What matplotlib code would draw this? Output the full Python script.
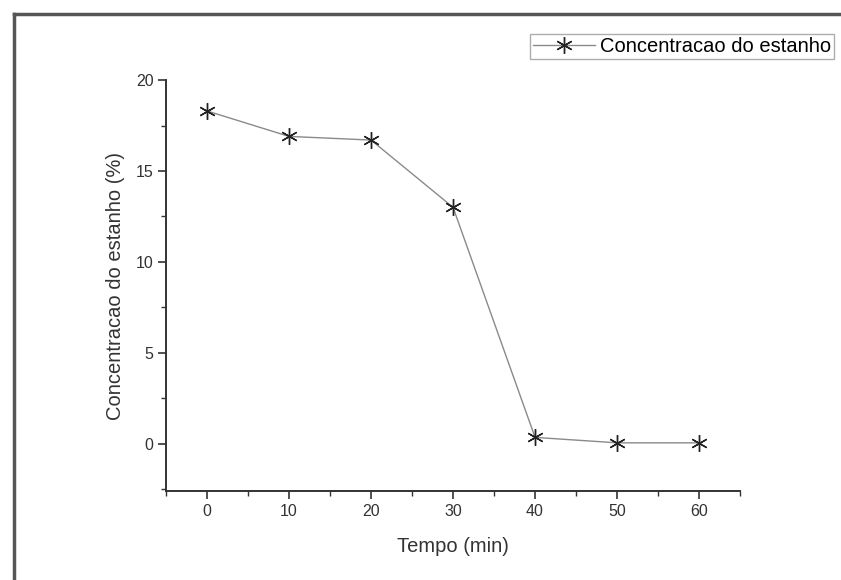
import numpy as np, matplotlib
matplotlib.use("Agg")
import matplotlib.pyplot as plt
from matplotlib.lines import Line2D
from matplotlib.ticker import MultipleLocator

plt.rcParams["font.family"] = ["Liberation Sans", "DejaVu Sans"]

tempo = [0, 10, 20, 30, 40, 50, 60]
conc = [18.3, 16.9, 16.7, 13.0, 0.35, 0.05, 0.05]
label = "Concentracao do estanho"

fig = plt.figure(figsize=(8.41, 5.80), dpi=100)
ax = fig.add_axes([0.1974, 0.1534, 0.6826, 0.7086])

ax.plot(tempo, conc, color="#8a8a8a", lw=1.0, marker=(6, 2, 0), ms=12,
        mec="#222222", mew=1.0, label=label)

ax.set_xlim(-5, 65); ax.set_ylim(-2.6, 20)
ax.set_xticks(tempo); ax.set_yticks([0, 5, 10, 15, 20])
ax.xaxis.set_minor_locator(MultipleLocator(5))
ax.yaxis.set_minor_locator(MultipleLocator(2.5))
for s in ["top", "right"]:
    ax.spines[s].set_visible(False)
for s in ["left", "bottom"]:
    ax.spines[s].set_linewidth(1.4); ax.spines[s].set_color("#333333")
ax.tick_params(which="major", direction="out", length=6, width=1.2,
               labelsize=11.5, colors="#333333", pad=3)
ax.tick_params(which="minor", direction="out", length=3.5, width=1.0, colors="#333333")
ax.set_xlabel("Tempo (min)", fontsize=14.5, color="#333333", labelpad=13)
ax.set_ylabel("Concentracao do estanho (%)", fontsize=14.5, color="#333333", labelpad=8)

fig.legend(loc="upper right", bbox_to_anchor=(0.997, 0.948), fontsize=14.5,
           frameon=True, fancybox=False, edgecolor="#999999",
           handlelength=3.1, borderpad=0.15, handletextpad=0.25,
           borderaxespad=0.2)

# image frame
fig.add_artist(Line2D([0.017, 0.017], [0, 0.976], color="#555555", lw=2.5,
                      transform=fig.transFigure))
fig.add_artist(Line2D([0.017, 1.0], [0.976, 0.976], color="#555555", lw=2.5,
                      transform=fig.transFigure))

fig.savefig("out.png", dpi=100)
